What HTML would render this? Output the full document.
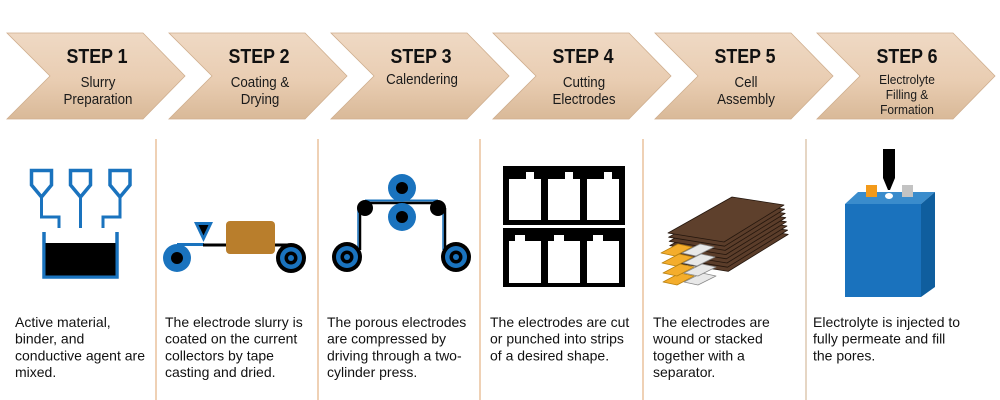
<!DOCTYPE html>
<html>
<head>
<meta charset="utf-8">
<style>
  html,body{margin:0;padding:0;background:#fff;}
  body{width:1000px;height:400px;overflow:hidden;}
  svg{display:block;}
  .st{font-family:"Liberation Sans",Arial,sans-serif;font-weight:bold;font-size:20px;fill:#111;}
  .sub{font-family:"Liberation Sans",Arial,sans-serif;font-size:14.5px;fill:#1a1a1a;}
  .sub6{font-family:"Liberation Sans",Arial,sans-serif;font-size:13px;fill:#1a1a1a;}
  .desc{font-family:"Liberation Sans",Arial,sans-serif;font-size:14px;fill:#111;}
</style>
</head>
<body>
<svg width="1000" height="400" viewBox="0 0 1000 400" xmlns="http://www.w3.org/2000/svg">
  <defs>
    <linearGradient id="chev" x1="0" y1="0" x2="0" y2="1">
      <stop offset="0" stop-color="#efd9c4"/>
      <stop offset="0.55" stop-color="#e9cdb2"/>
      <stop offset="1" stop-color="#d9b998"/>
    </linearGradient>
  </defs>

  <!-- Chevrons -->
  <g fill="url(#chev)" stroke="#cfae8e" stroke-width="0.8">
    <polygon points="7,33 143,33 185,76 143,119 7,119 50,76"/>
    <polygon points="169,33 305,33 347,76 305,119 169,119 212,76"/>
    <polygon points="331,33 467,33 509,76 467,119 331,119 374,76"/>
    <polygon points="493,33 629,33 671,76 629,119 493,119 536,76"/>
    <polygon points="655,33 791,33 833,76 791,119 655,119 698,76"/>
    <polygon points="817,33 953,33 995,76 953,119 817,119 860,76"/>
  </g>

  <!-- Chevron text -->
  <g text-anchor="middle">
    <text class="st" transform="translate(97,63) scale(0.89,1)">STEP 1</text>
    <text class="sub" transform="translate(98,87) scale(0.92,1)">Slurry</text>
    <text class="sub" transform="translate(98,104) scale(0.92,1)">Preparation</text>

    <text class="st" transform="translate(259,63) scale(0.89,1)">STEP 2</text>
    <text class="sub" transform="translate(260,87) scale(0.92,1)">Coating &amp;</text>
    <text class="sub" transform="translate(260,104) scale(0.92,1)">Drying</text>

    <text class="st" transform="translate(421,63) scale(0.89,1)">STEP 3</text>
    <text class="sub" transform="translate(422,84) scale(0.92,1)">Calendering</text>

    <text class="st" transform="translate(583,63) scale(0.89,1)">STEP 4</text>
    <text class="sub" transform="translate(584,87) scale(0.92,1)">Cutting</text>
    <text class="sub" transform="translate(584,104) scale(0.92,1)">Electrodes</text>

    <text class="st" transform="translate(745,63) scale(0.89,1)">STEP 5</text>
    <text class="sub" transform="translate(746,87) scale(0.92,1)">Cell</text>
    <text class="sub" transform="translate(746,104) scale(0.92,1)">Assembly</text>

    <text class="st" transform="translate(907,63) scale(0.89,1)">STEP 6</text>
    <text class="sub6" transform="translate(907,84) scale(0.92,1)">Electrolyte</text>
    <text class="sub6" transform="translate(907,99) scale(0.92,1)">Filling &amp;</text>
    <text class="sub6" transform="translate(907,114) scale(0.92,1)">Formation</text>
  </g>

  <!-- Dividers -->
  <g stroke="#efd1b5" stroke-width="2">
    <line x1="156" y1="139" x2="156" y2="400"/>
    <line x1="318" y1="139" x2="318" y2="400"/>
    <line x1="480" y1="139" x2="480" y2="400"/>
    <line x1="643" y1="139" x2="643" y2="400"/>
    <line x1="806" y1="139" x2="806" y2="400" stroke="#e6d6c4"/>
  </g>

  <!-- STEP 1 icon -->
  <g fill="none" stroke="#1a73be" stroke-width="3.5" stroke-linejoin="miter">
    <path d="M31.5,170.5 H51.5 V185 L41.5,197 L31.5,185 Z"/>
    <path d="M70.5,170.5 H90.5 V185 L80.5,197 L70.5,185 Z"/>
    <path d="M110,170.5 H130 V185 L120,197 L110,185 Z"/>
    <path d="M41.5,198 V217 H59 V228" stroke-width="3"/>
    <path d="M80.5,198 V228" stroke-width="3"/>
    <path d="M120,198 V217 H103 V228" stroke-width="3"/>
    <path d="M44,232 V277 H117 V232"/>
  </g>
  <rect x="45.5" y="243" width="70" height="32.5" fill="#000"/>

  <!-- STEP 2 icon -->
  <line x1="177" y1="244.5" x2="204" y2="244.5" stroke="#1a73be" stroke-width="3"/>
  <line x1="203" y1="245" x2="228" y2="245" stroke="#000" stroke-width="3"/>
  <line x1="273" y1="245" x2="292" y2="245" stroke="#000" stroke-width="3"/>
  <circle cx="177" cy="258" r="14" fill="#1a73be"/>
  <circle cx="177" cy="258" r="6" fill="#000"/>
  <circle cx="291" cy="258" r="15" fill="#000"/>
  <circle cx="291" cy="258" r="11" fill="#1a73be"/>
  <circle cx="291" cy="258" r="6.5" fill="#000"/>
  <circle cx="291" cy="258" r="3" fill="#1a73be"/>
  <polygon points="194,222 213,222 203.5,242" fill="#1a73be"/>
  <polygon points="198.5,225 208.5,225 203.5,235.5" fill="#000"/>
  <rect x="226" y="221" width="49" height="33" rx="4" fill="#b97e2c"/>

  <!-- STEP 3 icon -->
  <line x1="365" y1="203" x2="438" y2="203" stroke="#000" stroke-width="2.5"/>
  <line x1="365" y1="200.5" x2="438" y2="200.5" stroke="#1a73be" stroke-width="2"/>
  <line x1="360" y1="208" x2="360" y2="250" stroke="#000" stroke-width="2.5"/>
  <line x1="358" y1="208" x2="358" y2="250" stroke="#1a73be" stroke-width="1.5"/>
  <line x1="445" y1="208" x2="445" y2="250" stroke="#000" stroke-width="2.5"/>
  <line x1="443" y1="208" x2="443" y2="250" stroke="#1a73be" stroke-width="1.5"/>
  <circle cx="402" cy="188" r="14" fill="#1a73be"/>
  <circle cx="402" cy="188" r="6" fill="#000"/>
  <circle cx="402" cy="217" r="14" fill="#1a73be"/>
  <circle cx="402" cy="217" r="6" fill="#000"/>
  <circle cx="365" cy="208" r="8" fill="#000"/>
  <circle cx="438" cy="208" r="8" fill="#000"/>
  <circle cx="347" cy="257" r="15" fill="#000"/>
  <circle cx="347" cy="257" r="11" fill="#1a73be"/>
  <circle cx="347" cy="257" r="6.5" fill="#000"/>
  <circle cx="347" cy="257" r="3" fill="#1a73be"/>
  <circle cx="456" cy="257" r="15" fill="#000"/>
  <circle cx="456" cy="257" r="11" fill="#1a73be"/>
  <circle cx="456" cy="257" r="6.5" fill="#000"/>
  <circle cx="456" cy="257" r="3" fill="#1a73be"/>

  <!-- STEP 4 icon -->
  <rect x="503" y="166" width="122" height="59" fill="#000"/>
  <rect x="503" y="228" width="122" height="59" fill="#000"/>
  <g fill="#fff">
    <path d="M509,179 H526 V172 H534 V179 H541 V220 H509 Z"/>
    <path d="M548,179 H565 V172 H573 V179 H580 V220 H548 Z"/>
    <path d="M587,179 H604 V172 H612 V179 H619 V220 H587 Z"/>
    <path d="M509,241 H515 V235 H525 V241 H541 V283 H509 Z"/>
    <path d="M548,241 H554 V235 H564 V241 H580 V283 H548 Z"/>
    <path d="M587,241 H593 V235 H603 V241 H619 V283 H587 Z"/>
  </g>

  <!-- STEP 5 icon -->
  <g stroke-width="0.8" stroke-linejoin="round">
    <!-- sheet 7 (bottom) -->
    <polygon points="672.2,262.4 736.2,226.4 788.2,234.4 728.2,271.4" fill="#5b3d2a" stroke="#24160d"/>
    <polygon points="663,282 680,273 694,276 677,285" fill="#f4ad2c" stroke="#b8800f"/>
    <polygon points="684,282 702,273 716,276 698,285" fill="#e8e8e8" stroke="#8a8a8a"/>
    <polygon points="671.6,258.2 735.6,222.2 787.6,230.2 727.6,267.2" fill="#5b3d2a" stroke="#24160d"/>
    <polygon points="671,254 735,218 787,226 727,263" fill="#5b3d2a" stroke="#24160d"/>
    <polygon points="663,273 680,264 694,267 677,276" fill="#f4ad2c" stroke="#b8800f"/>
    <polygon points="684,273 702,264 716,267 698,276" fill="#e8e8e8" stroke="#8a8a8a"/>
    <polygon points="670.4,249.8 734.4,213.8 786.4,221.8 726.4,258.8" fill="#5b3d2a" stroke="#24160d"/>
    <polygon points="669.8,245.6 733.8,209.6 785.8,217.6 725.8,254.6" fill="#5b3d2a" stroke="#24160d"/>
    <polygon points="662,263 679,254 693,257 676,266" fill="#f4ad2c" stroke="#b8800f"/>
    <polygon points="683,263 701,254 715,257 697,266" fill="#e8e8e8" stroke="#8a8a8a"/>
    <polygon points="669.2,241.4 733.2,205.4 785.2,213.4 725.2,250.4" fill="#5b3d2a" stroke="#24160d"/>
    <polygon points="668.6,237.2 732.6,201.2 784.6,209.2 724.6,246.2" fill="#5b3d2a" stroke="#24160d"/>
    <polygon points="661,253 678,244 692,247 675,256" fill="#f4ad2c" stroke="#b8800f"/>
    <polygon points="682,253 700,244 714,247 696,256" fill="#e8e8e8" stroke="#8a8a8a"/>
    <polygon points="668,233 732,197 784,205 724,242" fill="#5e402c" stroke="#24160d"/>
  </g>

  <!-- STEP 6 icon -->
  <rect x="845" y="204" width="76" height="93" fill="#1a72bd"/>
  <polygon points="845,204 858,192 935,192 921,204" fill="#3a8ccc"/>
  <polygon points="921,204 935,192 935,287 921,297" fill="#0f5e9e"/>
  <rect x="866" y="185" width="11" height="12" fill="#f39a1a"/>
  <rect x="902" y="185" width="11" height="12" fill="#c3c3c3"/>
  <ellipse cx="889" cy="196" rx="4" ry="3" fill="#fff"/>
  <path d="M883,149 H895 V178 L890,190 H888 L883,178 Z" fill="#000"/>

  <!-- Descriptions -->
  <text class="desc" x="15" y="327">
    <tspan x="15" y="327">Active material,</tspan>
    <tspan x="15" y="343.7">binder, and</tspan>
    <tspan x="15" y="360.4">conductive agent are</tspan>
    <tspan x="15" y="377">mixed.</tspan>
  </text>
  <text class="desc">
    <tspan x="165" y="327">The electrode slurry is</tspan>
    <tspan x="165" y="343.7">coated on the current</tspan>
    <tspan x="165" y="360.4">collectors by tape</tspan>
    <tspan x="165" y="377">casting and dried.</tspan>
  </text>
  <text class="desc">
    <tspan x="327" y="327">The porous electrodes</tspan>
    <tspan x="327" y="343.7">are compressed by</tspan>
    <tspan x="327" y="360.4">driving through a two-</tspan>
    <tspan x="327" y="377">cylinder press.</tspan>
  </text>
  <text class="desc">
    <tspan x="490" y="327">The electrodes are cut</tspan>
    <tspan x="490" y="343.7">or punched into strips</tspan>
    <tspan x="490" y="360.4">of a desired shape.</tspan>
  </text>
  <text class="desc">
    <tspan x="653" y="327">The electrodes are</tspan>
    <tspan x="653" y="343.7">wound or stacked</tspan>
    <tspan x="653" y="360.4">together with a</tspan>
    <tspan x="653" y="377">separator.</tspan>
  </text>
  <text class="desc">
    <tspan x="813" y="327">Electrolyte is injected to</tspan>
    <tspan x="813" y="343.7">fully permeate and fill</tspan>
    <tspan x="813" y="360.4">the pores.</tspan>
  </text>
</svg>
</body>
</html>
